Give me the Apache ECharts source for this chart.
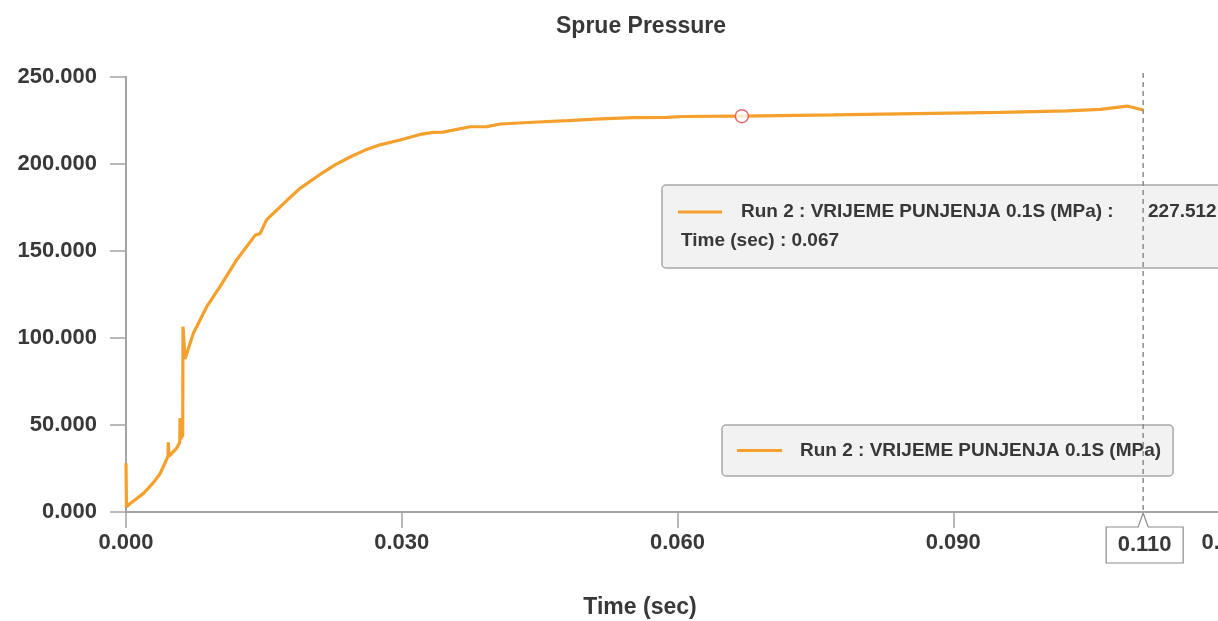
<!DOCTYPE html>
<html>
<head>
<meta charset="utf-8">
<script src="https://cdn.jsdelivr.net/npm/echarts@6/dist/echarts.min.js"></script>
<style>
html,body{margin:0;padding:0;background:#fff;}
#chart{width:1218px;height:621px;}
</style>
</head>
<body>
<div id="chart"></div>
<script>
// ---- data ----
const chartTitle = 'Sprue Pressure';
const seriesName = 'Run 2 : VRIJEME PUNJENJA 0.1S (MPa)';
const xAxisName = 'Time (sec)';
const timeSec = [
  0, 0.00005, 0.0005, 0.0010, 0.0019, 0.0030, 0.0037, 0.00457, 0.00460, 0.00468,
  0.00497, 0.0055, 0.00585, 0.00588, 0.00592, 0.00617, 0.0062, 0.00642, 0.00733, 0.00878,
  0.01023, 0.01205, 0.01404, 0.01458, 0.01531, 0.01749, 0.01893, 0.02111, 0.02274, 0.02437,
  0.02601, 0.02764, 0.02981, 0.03199, 0.03341, 0.03449, 0.03743, 0.03928, 0.04070, 0.04429,
  0.04799, 0.05158, 0.05517, 0.05887, 0.06061, 0.06605, 0.0670, 0.07693, 0.08781, 0.09510,
  0.10239, 0.10598, 0.10892, 0.11066
];
const pressureMPa = [
  28, 3, 5, 7, 10.7, 17, 22, 32, 40, 32,
  33.7, 36.6, 40, 54, 42, 44, 106.5, 88, 102.7, 118,
  129.5, 145, 159, 160, 168, 179, 186, 194, 199.5, 204,
  208, 211, 213.8, 217, 218.2, 218.3, 221.4, 221.5, 223, 224,
  224.9, 225.9, 226.6, 226.8, 227.3, 227.5, 227.512, 228.2, 229.1, 229.7,
  230.5, 231.4, 233.3, 231
];
const hoverTime = 0.067;           // point shown in the tooltip
const cursorTime = 0.11066;        // dashed cursor line (end of run)
const cursorLabel = '0.110';
const xMin = 0, xMax = 0.12, xStep = 0.03;
const yMin = 0, yMax = 250, yStep = 50;

// ---- styling ----
const FONT = "'Liberation Sans', Arial, sans-serif";
const lineColor = '#f5a02c';
const textColor = '#383838';
const axisColor = '#a3a3a3';

const seriesData = timeSec.map((t, i) => [t, pressureMPa[i]]);
const hoverIdx = timeSec.indexOf(hoverTime);
const hoverValue = pressureMPa[hoverIdx];

const chart = echarts.init(document.getElementById('chart'), null, {renderer: 'canvas'});

chart.setOption({
  animation: false,
  backgroundColor: '#ffffff',
  title: {
    text: chartTitle,
    left: 641, top: 15, padding: 0,
    textAlign: 'center',
    textStyle: {fontFamily: FONT, fontSize: 23, fontWeight: 'bold', color: textColor}
  },
  grid: {left: 126, top: 77, right: -11, bottom: 109, containLabel: false, outerBoundsMode: 'none'},
  legend: {
    data: [seriesName],
    left: 722, top: 425,
    padding: [16, 12, 16, 15],
    backgroundColor: '#f2f2f2',
    borderColor: '#a8a8a8', borderWidth: 1.5, borderRadius: 4,
    icon: 'rect', itemWidth: 45, itemHeight: 3,
    selectedMode: false,
    textStyle: {fontFamily: FONT, fontSize: 19, fontWeight: 'bold', color: textColor, padding: [0, 0, 0, 13]}
  },
  xAxis: {
    type: 'value', min: xMin, max: xMax, interval: xStep,
    name: xAxisName, nameLocation: 'middle', nameGap: 84,
    nameTextStyle: {fontFamily: FONT, fontSize: 23, fontWeight: 'bold', color: textColor, padding: [0, 75, 0, 0]},
    axisLine: {show: true, lineStyle: {color: axisColor, width: 2}},
    axisTick: {show: true, length: 16, lineStyle: {color: axisColor, width: 1.5}},
    axisLabel: {margin: 20, fontFamily: FONT, fontSize: 22, fontWeight: 'bold', color: textColor,
      formatter: v => v.toFixed(3)},
    splitLine: {show: false}
  },
  yAxis: {
    type: 'value', min: yMin, max: yMax, interval: yStep,
    axisLine: {show: true, lineStyle: {color: axisColor, width: 2}},
    axisTick: {show: true, length: 16, lineStyle: {color: axisColor, width: 1.5}},
    axisLabel: {margin: 29, fontFamily: FONT, fontSize: 22, fontWeight: 'bold', color: textColor,
      formatter: v => v.toFixed(3)},
    splitLine: {show: false}
  },
  series: [
    {
      name: seriesName, type: 'line', data: seriesData,
      showSymbol: false, symbol: 'none',
      lineStyle: {color: lineColor, width: 3.2},
      itemStyle: {color: lineColor},
      z: 3
    },
    {
      name: 'hover', type: 'scatter',
      data: [[hoverTime, hoverValue]],
      symbol: 'circle', symbolSize: 13,
      itemStyle: {color: '#ffffff', borderColor: '#e0464d', borderWidth: 1.5},
      z: 5, silent: true
    }
  ]
});

// ---- tooltip box, cursor line and cursor label (decorations) ----
const cx = chart.convertToPixel({xAxisIndex: 0}, cursorTime);
const ay = chart.convertToPixel({yAxisIndex: 0}, yMin);
const topY = chart.convertToPixel({yAxisIndex: 0}, yMax);
const font19 = 'bold 19px ' + FONT;
const font22 = 'bold 22px ' + FONT;

chart.setOption({
  graphic: [
    {
      type: 'line', id: 'cursorLine', z: 50, silent: true,
      shape: {x1: cx, y1: topY - 4, x2: cx, y2: ay},
      style: {stroke: '#8c8c8c', lineWidth: 1.5, lineDash: [5, 4]}
    },
    {
      type: 'group', id: 'tip', z: 100,
      children: [
        {type: 'rect', shape: {x: 662, y: 185, width: 620, height: 83, r: 4},
          style: {fill: '#f2f2f2', stroke: '#a8a8a8', lineWidth: 1.5}},
        {type: 'line', shape: {x1: 678, y1: 212, x2: 722, y2: 212},
          style: {stroke: lineColor, lineWidth: 3}},
        {type: 'text', x: 741, y: 212,
          style: {text: seriesName + ' :', font: font19, fill: textColor, verticalAlign: 'middle'}},
        {type: 'text', x: 1148, y: 212,
          style: {text: hoverValue.toFixed(3), font: font19, fill: textColor, verticalAlign: 'middle'}},
        {type: 'text', x: 681, y: 241,
          style: {text: xAxisName + ' : ' + hoverTime.toFixed(3), font: font19, fill: textColor, verticalAlign: 'middle'}}
      ]
    },
    {
      type: 'group', id: 'cursorLabel', z: 100,
      children: [
        {type: 'polygon',
          shape: {points: [
            [cx - 37, ay + 15], [cx - 5, ay + 15], [cx, ay + 1], [cx + 5, ay + 15],
            [cx + 40, ay + 15], [cx + 40, ay + 51], [cx - 37, ay + 51]
          ]},
          style: {fill: '#ffffff', stroke: '#8c8c8c', lineWidth: 1.2}},
        {type: 'text', x: cx + 1.5, y: ay + 33,
          style: {text: cursorLabel, font: font22, fill: textColor, align: 'center', verticalAlign: 'middle'}}
      ]
    }
  ]
});
</script>
</body>
</html>
